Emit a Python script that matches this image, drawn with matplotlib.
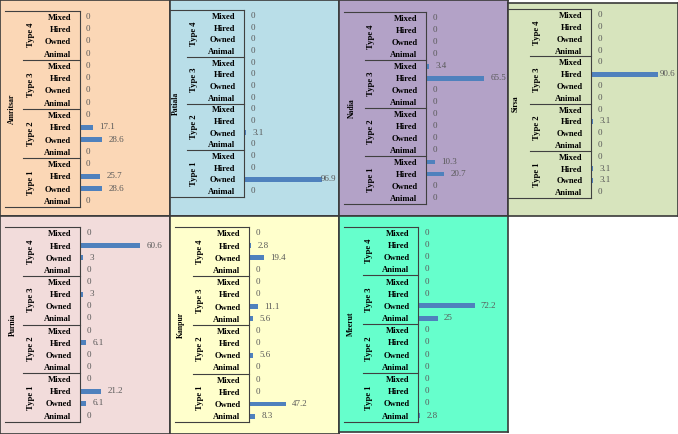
import matplotlib
matplotlib.use('Agg')
import matplotlib.pyplot as plt

# Data (rows top-to-bottom: Type 4 .. Type 1, each Mixed/Hired/Owned/Animal)
districts = ['Amritsar', 'Patiala', 'Nadia', 'Sirsa', 'Purnia', 'Kanpur', 'Meerut']
types = ['Type 4', 'Type 3', 'Type 2', 'Type 1']
sources = ['Mixed', 'Hired', 'Owned', 'Animal']

amritsar = [0, 0, 0, 0, 0, 0, 0, 0, 0, 17.1, 28.6, 0, 0, 25.7, 28.6, 0]
patiala = [0, 0, 0, 0, 0, 0, 0, 0, 0, 0, 3.1, 0, 0, 0, 96.9, 0]
nadia = [0, 0, 0, 0, 3.4, 65.5, 0, 0, 0, 0, 0, 0, 10.3, 20.7, 0, 0]
sirsa = [0, 0, 0, 0, 0, 90.6, 0, 0, 0, 3.1, 0, 0, 0, 3.1, 3.1, 0]
purnia = [0, 60.6, 3, 0, 0, 3, 0, 0, 0, 6.1, 0, 0, 0, 21.2, 6.1, 0]
kanpur = [0, 2.8, 19.4, 0, 0, 0, 11.1, 5.6, 0, 0, 5.6, 0, 0, 0, 47.2, 8.3]
meerut = [0, 0, 0, 0, 0, 0, 72.2, 25, 0, 0, 0, 0, 0, 0, 0, 2.8]
values = [amritsar, patiala, nadia, sirsa, purnia, kanpur, meerut]

bg_colors = ['#FBD7B6', '#B9DEE8', '#B3A2C7', '#D7E4BD', '#F2DCDB', '#FFFFCC', '#66FFCC']

# layout in pixels: panel box, table left, separator start, axis line, table top/bottom, type x, district x, axis max
layout = [
    dict(box=(0, 0, 170, 216), left=5, sep=23, vline=79.5, top=10.7, bot=207, tx=31, dx=12, xmax=110),
    dict(box=(170, 0, 339, 216), left=170, sep=187, vline=244, top=10, bot=197, tx=194, dx=175.5, xmax=115),
    dict(box=(339, 0, 508, 216), left=344, sep=365, vline=426, top=12.3, bot=204, tx=371, dx=352, xmax=89),
    dict(box=(508, 3, 678, 216), left=508, sep=530, vline=591, top=9.3, bot=198, tx=537, dx=516, xmax=113.5),
    dict(box=(0, 216, 170, 434), left=5, sep=23, vline=80, top=227.3, bot=421.7, tx=31, dx=13, xmax=88),
    dict(box=(170, 216, 339, 434), left=175, sep=192.7, vline=249, top=227.3, bot=422.3, tx=200, dx=180.7, xmax=111.5),
    dict(box=(339, 216, 508, 432), left=344, sep=363, vline=418, top=226.7, bot=421.7, tx=368.7, dx=350.7, xmax=111),
]

W, H = 678, 434
fig = plt.figure(figsize=(W / 100, H / 100), dpi=100)
fig.patch.set_facecolor('white')

serif = 'Liberation Serif'
line_col = '#404040'
bar_col = '#4F81BD'
lab_col = '#595959'


def fig_rect(x0, y0, x1, y1):
    return [x0 / W, 1 - y1 / H, (x1 - x0) / W, (y1 - y0) / H]


# panel backgrounds
for lay, col in zip(layout, bg_colors):
    bx = fig.add_axes(fig_rect(*lay['box']))
    bx.set_facecolor(col)
    bx.set_xticks([])
    bx.set_yticks([])
    for s in bx.spines.values():
        s.set_color('#3A3A3A')
        s.set_linewidth(1.2)

# bar charts
for name, vals, lay in zip(districts, values, layout):
    right = lay['box'][2] - 3
    width_px = right - lay['vline']
    ax = fig.add_axes(fig_rect(lay['vline'], lay['top'], right, lay['bot']))
    ax.set_facecolor('none')
    y = list(range(len(vals)))
    ax.barh(y, vals, height=0.4, color=bar_col)
    ax.set_xlim(0, lay['xmax'])
    ax.set_ylim(len(vals) - 0.5, -0.5)
    for k in ['top', 'right', 'bottom']:
        ax.spines[k].set_visible(False)
    ax.spines['left'].set_color(line_col)
    ax.spines['left'].set_linewidth(0.8)
    ax.set_xticks([])
    ax.set_yticks(y)
    ax.set_yticklabels(sources * len(types), fontfamily=serif, fontweight='bold', fontsize=6.2)
    ax.tick_params(axis='y', length=0, pad=6)

    # value labels
    for yi, v in zip(y, vals):
        txt = '{:g}'.format(v)
        if v / lay['xmax'] > 0.78:
            ax.annotate(txt, (lay['xmax'], yi), xytext=(0, 0), textcoords='offset points',
                        ha='right', va='center', fontsize=6.5, color=lab_col, family=serif)
        else:
            ax.annotate(txt, (v, yi), xytext=(4.5, 0), textcoords='offset points',
                        ha='left', va='center', fontsize=6.5, color=lab_col, family=serif)

    # table frame lines
    tr = ax.get_yaxis_transform()
    xl = (lay['left'] - lay['vline']) / width_px
    xs = (lay['sep'] - lay['vline']) / width_px
    ax.plot([xl, 0], [-0.5, -0.5], transform=tr, clip_on=False, color=line_col, lw=0.8)
    ax.plot([xl, 0], [15.5, 15.5], transform=tr, clip_on=False, color=line_col, lw=0.8)
    for g in range(1, len(types)):
        yy = g * len(sources) - 0.5
        ax.plot([xs, 0], [yy, yy], transform=tr, clip_on=False, color=line_col, lw=0.8)

    # type labels
    xt = (lay['tx'] - lay['vline']) / width_px
    for g, t in enumerate(types):
        yc = g * len(sources) + 1.5
        ax.text(xt, yc, t, transform=tr, rotation=90, ha='center', va='center',
                family=serif, fontweight='bold', fontsize=6.2)

    # district label
    xd = (lay['dx'] - lay['vline']) / width_px
    ax.text(xd, 7.5, name, transform=tr, rotation=90, ha='center', va='center',
            family=serif, fontweight='bold', fontsize=5.6)

fig.savefig('out.png', dpi=100, facecolor='white')
